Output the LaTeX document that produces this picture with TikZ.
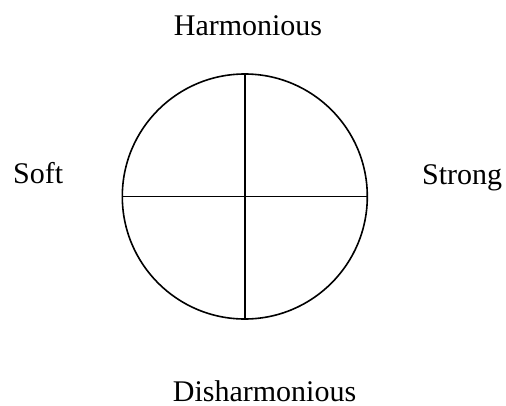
\documentclass[tikz,border=0pt]{standalone}
\usepackage{fontspec}
\setmainfont{Liberation Serif}
\begin{document}
\begin{tikzpicture}[x=1bp,y=1bp,
  lbl/.style={inner sep=0pt,font=\fontsize{30bp}{36bp}\selectfont},
  wheel/.style={circle,draw,line width=1.6bp,minimum size=245bp,inner sep=0pt},
  axis/.style={line width=1.6bp}]
\useasboundingbox (0,0) rectangle (506,405);
\node[wheel] (c) at (244.8,208.5) {};
\draw[axis] (c.north) -- (c.south);
\draw[axis] (c.west) -- (c.east);
\node[lbl,anchor=base] (h) at (248,370) {Harmonious};
\node[lbl,anchor=base west] (s) at (13,222) {Soft};
\node[lbl,anchor=base west] (st) at (422,221) {Strong};
\node[lbl,anchor=base] (d) at (264.5,4) {Disharmonious};
\end{tikzpicture}
\end{document}
